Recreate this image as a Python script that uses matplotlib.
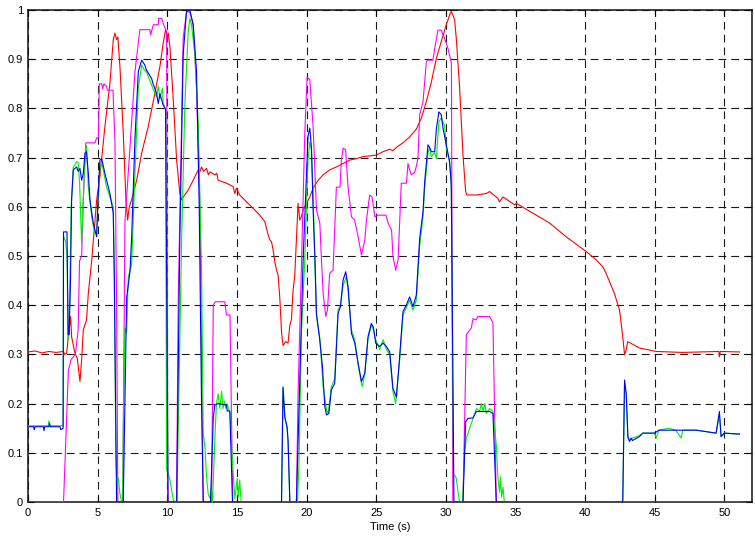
import matplotlib
matplotlib.use("Agg")
import matplotlib.pyplot as plt

# ---- data (time in s, normalized value) ----
red_points = [(0,0.305),(0.5,0.307),(1.0,0.303),(1.5,0.306),(2.0,0.304),(2.55,0.306),(2.62,0.3),(2.77,0.302),
    (2.9,0.336),(3.06,0.377),(3.13,0.336),(3.37,0.302),(3.54,0.292),(3.73,0.245),(3.85,0.289),(3.97,0.35),
    (4.2,0.37),(4.33,0.424),(4.57,0.49),(4.93,0.614),(5.16,0.661),(5.52,0.763),(5.88,0.851),(6.12,0.939),
    (6.24,0.953),(6.36,0.94),(6.45,0.945),(6.6,0.885),(6.84,0.749),(7.03,0.614),(7.15,0.573),(7.27,0.6),
    (7.44,0.614),(7.8,0.654),(8.16,0.709),(8.63,0.763),(9.11,0.831),(9.47,0.885),(9.7,0.932),(9.88,0.96),
    (10.0,0.946),(10.07,0.953),(10.19,0.925),(10.43,0.817),(10.67,0.695),(10.9,0.627),(11.03,0.614),
    (11.15,0.62),(11.5,0.634),(11.86,0.654),(12.22,0.675),(12.3,0.668),(12.46,0.681),(12.6,0.672),
    (12.82,0.678),(12.95,0.665),(13.06,0.671),(13.41,0.665),(13.55,0.668),(13.65,0.654),(14.25,0.648),
    (14.73,0.641),(14.85,0.627),(14.97,0.638),(15.2,0.624),(15.69,0.61),(16.16,0.597),(16.64,0.583),
    (17.0,0.57),(17.24,0.543),(17.36,0.533),(17.48,0.529),(17.6,0.512),(17.72,0.488),(17.84,0.472),
    (17.96,0.46),(18.08,0.414),(18.2,0.346),(18.31,0.318),(18.5,0.326),(18.67,0.323),(18.8,0.36),
    (18.91,0.37),(19.03,0.43),(19.15,0.46),(19.27,0.533),(19.39,0.607),(19.51,0.573),(19.63,0.58),
    (19.75,0.593),(19.99,0.607),(20.23,0.62),(20.47,0.638),(20.83,0.654),(21.19,0.665),(21.66,0.675),
    (22.14,0.681),(22.62,0.688),(23.1,0.695),(23.58,0.698),(24.05,0.702),(25.0,0.705),(25.49,0.712),
    (25.97,0.717),(26.2,0.714),(26.5,0.722),(26.92,0.73),(27.4,0.742),(27.88,0.758),(28.24,0.78),
    (28.6,0.814),(28.96,0.854),(29.32,0.902),(29.67,0.936),(30.03,0.97),(30.27,0.99),(30.39,0.997),
    (30.5,0.99),(30.63,0.98),(30.75,0.942),(30.99,0.841),(31.23,0.705),(31.42,0.631),(31.51,0.624),
    (32.19,0.624),(32.9,0.627),(33.14,0.631),(33.4,0.625),(33.74,0.617),(33.85,0.61),(34.1,0.62),
    (34.94,0.604),(35.06,0.607),(36.25,0.587),(37.45,0.567),(38.64,0.539),(40.08,0.509),(40.8,0.492),
    (41.27,0.478),(41.5,0.465),(42.1,0.424),(42.47,0.39),(42.7,0.336),(42.83,0.299),(42.95,0.31),
    (43.06,0.326),(43.9,0.313),(45.1,0.306),(47.0,0.304),(49.6,0.306),(49.64,0.295),(49.7,0.306),
    (51.08,0.305)]

magenta_points = [(0,0),(2.55,0),(2.9,0.268),(3.1,0.29),(3.4,0.3),(3.6,0.35),(3.7,0.49),(3.85,0.5),
    (3.97,0.614),(4.15,0.73),(4.8,0.73),(4.93,0.74),(5.05,0.74),(5.12,0.85),(5.3,0.85),(5.35,0.84),
    (5.45,0.85),(5.64,0.845),(5.7,0.837),(6.1,0.837),(6.24,0.736),(6.36,0.4),(6.45,0),(6.8,0),
    (6.96,0.57),(7.2,0.67),(7.68,0.875),(8.03,0.96),(8.75,0.96),(8.8,0.95),(8.9,0.96),(9.0,0.97),
    (9.35,0.97),(9.38,0.983),(9.6,0.983),(9.7,0.973),(9.95,0.956),(10.05,0),(10.67,0),(10.78,0.4),
    (11.03,0.773),(11.14,0.943),(11.38,0.996),(11.62,0.996),(11.86,0.97),(12.1,0.84),(12.34,0.604),
    (12.58,0),(13.18,0),(13.3,0.4),(13.46,0.407),(14.13,0.407),(14.25,0.38),(14.5,0.38),(14.7,0),
    (19.27,0),(19.39,0.221),(19.63,0.478),(19.87,0.749),(20.04,0.864),(20.23,0.858),(20.47,0.763),
    (20.71,0.593),(20.95,0.567),(21.07,0.492),(21.19,0.424),(21.38,0.377),(21.5,0.39),(21.66,0.465),
    (21.9,0.471),(22.14,0.64),(22.4,0.64),(22.5,0.695),(22.62,0.719),(22.8,0.716),(22.98,0.64),
    (23.22,0.58),(23.45,0.573),(23.7,0.539),(23.94,0.502),(24.18,0.532),(24.3,0.573),(24.53,0.624),
    (24.7,0.62),(24.9,0.58),(25.13,0.583),(25.7,0.583),(25.85,0.567),(26.1,0.553),(26.2,0.5),
    (26.4,0.471),(26.57,0.492),(26.8,0.648),(27.17,0.648),(27.28,0.688),(27.4,0.675),(27.52,0.665),
    (27.76,0.67),(27.88,0.682),(28.0,0.7),(28.12,0.787),(28.36,0.814),(28.6,0.895),(28.72,0.898),
    (29.07,0.898),(29.2,0.922),(29.43,0.959),(29.67,0.959),(29.91,0.942),(30.15,0.922),(30.4,0.892),
    (30.5,0),(31.23,0),(31.47,0.34),(31.83,0.354),(31.95,0.373),(32.18,0.37),(32.3,0.377),
    (33.14,0.377),(33.38,0.364),(33.62,0),(51.08,0)]

green_points = [(0,0.155),(1.45,0.155),(1.5,0.165),(1.55,0.155),(2.52,0.155),(2.55,0.54),(2.7,0.53),
    (2.8,0.5),(2.88,0.33),(2.95,0.35),(3.1,0.6),(3.25,0.68),(3.49,0.692),(3.6,0.69),(3.7,0.65),
    (3.85,0.526),(3.97,0.62),(4.09,0.7),(4.2,0.725),(4.33,0.64),(4.57,0.58),(4.8,0.546),(4.93,0.55),
    (5.16,0.68),(5.3,0.69),(5.64,0.64),(6.12,0.6),(6.2,0.45),(6.3,0.1),(6.36,0.051),(6.48,0.05),
    (6.6,0.017),(6.72,0.0),(6.8,0.0),(6.84,0.153),(6.96,0.354),(7.08,0.343),(7.2,0.458),(7.44,0.482),
    (7.68,0.671),(7.92,0.841),(8.16,0.888),(8.35,0.878),(8.5,0.875),(8.87,0.848),(9.0,0.838),
    (9.23,0.824),(9.35,0.845),(9.47,0.82),(9.66,0.841),(9.7,0.81),(9.88,0.8),(9.95,0.065),
    (10.07,0.058),(10.19,0.045),(10.43,0.004),(10.6,0),(10.7,0.0),(10.78,0.14),(11.03,0.536),
    (11.26,0.807),(11.5,0.956),(11.62,0.983),(11.74,0.97),(11.98,0.909),(12.22,0.773),(12.46,0.468),
    (12.58,0.14),(12.7,0.112),(12.82,0.051),(12.93,0.017),(13.05,0.008),(13.17,0.025),(13.25,0.0),
    (13.41,0.126),(13.53,0.2),(13.65,0.22),(13.77,0.19),(13.9,0.225),(14.0,0.19),(14.1,0.205),
    (14.2,0.19),(14.3,0.2),(14.5,0.18),(14.73,0.058),(14.85,0.007),(15.02,0.048),(15.1,0.01),
    (15.2,0.045),(15.3,0.0),(18.2,0),(18.31,0.23),(18.44,0.17),(18.6,0.15),(18.67,0.12),(18.8,0),
    (19.35,0),(19.46,0.085),(19.63,0.343),(19.87,0.492),(20.1,0.695),(20.23,0.732),(20.35,0.715),
    (20.47,0.627),(20.59,0.49),(20.71,0.377),(20.95,0.333),(21.19,0.234),(21.43,0.187),(21.55,0.18),
    (21.78,0.235),(22.02,0.25),(22.26,0.39),(22.43,0.4),(22.62,0.44),(22.86,0.458),(22.98,0.43),
    (23.22,0.35),(23.46,0.33),(23.7,0.28),(23.94,0.24),(24.0,0.235),(24.18,0.26),(24.41,0.33),
    (24.65,0.36),(24.8,0.35),(24.96,0.33),(25.25,0.31),(25.49,0.33),(25.73,0.31),(25.97,0.3),
    (26.2,0.225),(26.4,0.2),(26.69,0.29),(26.92,0.38),(27.16,0.395),(27.4,0.41),(27.64,0.39),
    (27.88,0.41),(28.12,0.52),(28.36,0.58),(28.48,0.64),(28.72,0.71),(28.84,0.72),(28.96,0.702),
    (29.2,0.71),(29.32,0.698),(29.5,0.773),(29.67,0.78),(29.91,0.766),(30.03,0.72),(30.27,0.69),
    (30.39,0.64),(30.55,0.055),(30.63,0.055),(30.75,0.048),(30.87,0.021),(30.99,0),(31.2,0),
    (31.35,0.102),(31.47,0.129),(31.71,0.15),(31.95,0.17),(32.2,0.19),(32.43,0.185),(32.55,0.2),
    (32.67,0.185),(32.8,0.2),(32.9,0.18),(33.14,0.19),(33.38,0.185),(33.62,0.116),(33.74,0.048),
    (33.86,0.02),(33.93,0.051),(34.0,0.01),(34.1,0.03),(34.2,0),(42.7,0),(42.83,0.24),(42.95,0.22),
    (43.07,0.13),(43.19,0.125),(43.4,0.13),(43.9,0.135),(44.14,0.14),(44.98,0.14),(45.1,0.13),
    (45.3,0.146),(46.0,0.15),(46.5,0.146),(46.9,0.13),(47.0,0.146),(48.0,0.146),(49.4,0.14),
    (49.64,0.175),(49.76,0.133),(50.0,0.14),(51.08,0.138)]

blue_points = [(0,0.153),(0.4,0.153),(0.45,0.147),(0.5,0.153),(1.1,0.153),(1.15,0.145),(1.2,0.153),
    (1.5,0.153),(1.55,0.16),(1.6,0.153),(2.3,0.153),(2.35,0.147),(2.52,0.15),(2.55,0.549),(2.8,0.549),
    (2.88,0.34),(2.95,0.34),(3.05,0.45),(3.13,0.614),(3.25,0.675),(3.49,0.681),(3.6,0.672),
    (3.73,0.678),(3.85,0.654),(3.97,0.668),(4.09,0.709),(4.2,0.712),(4.33,0.668),(4.45,0.614),
    (4.69,0.566),(4.93,0.539),(5.0,0.6),(5.16,0.695),(5.29,0.698),(5.52,0.668),(5.88,0.627),
    (6.12,0.587),(6.2,0.45),(6.36,0),(6.84,0),(7.08,0.415),(7.32,0.468),(7.44,0.537),(7.68,0.74),
    (7.92,0.875),(8.16,0.898),(8.39,0.888),(8.5,0.878),(8.87,0.861),(9.0,0.848),(9.23,0.831),
    (9.35,0.81),(9.47,0.83),(9.7,0.807),(9.88,0.797),(10.05,0),(10.67,0),(10.9,0.537),(11.14,0.909),
    (11.38,0.997),(11.62,1.0),(11.86,0.97),(12.1,0.875),(12.29,0.604),(12.46,0.197),(12.58,0),
    (13.1,0),(13.3,0.17),(13.41,0.197),(13.65,0.2),(14.25,0.197),(14.3,0.185),(14.49,0.185),
    (14.68,0),(18.2,0),(18.31,0.234),(18.44,0.173),(18.6,0.153),(18.67,0.126),(18.8,0),(19.27,0),
    (19.51,0.248),(19.75,0.49),(19.94,0.627),(20.1,0.743),(20.23,0.76),(20.35,0.72),(20.47,0.593),
    (20.59,0.505),(20.71,0.383),(20.95,0.329),(21.14,0.275),(21.31,0.194),(21.43,0.177),(21.6,0.18),
    (21.78,0.228),(22.02,0.241),(22.26,0.383),(22.43,0.397),(22.62,0.451),(22.81,0.468),
    (22.98,0.438),(23.22,0.343),(23.46,0.323),(23.7,0.282),(23.94,0.245),(24.18,0.262),
    (24.41,0.336),(24.65,0.363),(24.8,0.355),(24.96,0.323),(25.25,0.316),(25.49,0.323),
    (25.73,0.316),(25.97,0.305),(26.2,0.231),(26.45,0.213),(26.69,0.299),(26.92,0.387),(27.16,0.4),
    (27.4,0.417),(27.64,0.397),(27.88,0.421),(28.12,0.536),(28.36,0.59),(28.48,0.651),(28.72,0.726),
    (28.84,0.72),(28.96,0.712),(29.2,0.712),(29.32,0.759),(29.5,0.793),(29.67,0.787),(29.8,0.759),
    (30.03,0.726),(30.27,0.692),(30.39,0.644),(30.58,0),(31.23,0),(31.42,0.163),(31.59,0.17),
    (31.95,0.171),(32.19,0.184),(33.14,0.184),(33.38,0.18),(33.62,0),(42.7,0),(42.83,0.248),
    (42.95,0.221),(43.07,0.133),(43.19,0.123),(43.3,0.13),(43.4,0.125),(43.9,0.133),(44.14,0.14),
    (44.98,0.14),(45.3,0.146),(47.97,0.146),(49.4,0.14),(49.64,0.184),(49.76,0.133),(50.0,0.14),
    (51.08,0.138)]

x_ticks = [0, 5, 10, 15, 20, 25, 30, 35, 40, 45, 50]
y_ticks = [0, 0.1, 0.2, 0.3, 0.4, 0.5, 0.6, 0.7, 0.8, 0.9, 1]
y_tick_labels = ["0", "0.1", "0.2", "0.3", "0.4", "0.5", "0.6", "0.7", "0.8", "0.9", "1"]
x_label = "Time (s)"

plt.rcParams['font.family'] = ['Liberation Sans', 'DejaVu Sans']

fig = plt.figure(figsize=(7.55, 5.38), dpi=100)
ax = fig.add_axes([0.0371, 0.0669, 0.9593, 0.9145])

series = [(red_points, '#ff0000'), (magenta_points, '#ff00ff'),
          (green_points, '#00ee00'), (blue_points, '#0000ff')]
for pts, col in series:
    t, v = zip(*pts)
    ax.plot(t, v, color=col, linewidth=0.8, zorder=3)

ax.set_xlim(0, 52)
ax.set_ylim(0, 1)
ax.set_xticks(x_ticks)
ax.set_xticklabels([str(x) for x in x_ticks])
ax.set_yticks(y_ticks)
ax.set_yticklabels(y_tick_labels)
ax.tick_params(direction='in', length=4, width=0.8, labelsize=8,
               top=True, right=True)
ax.tick_params(axis='x', pad=4.5)
ax.tick_params(axis='y', pad=3.5)
ax.grid(True, color='#1a1a1a', linewidth=0.8, linestyle=(0, (7, 4.5)), zorder=1)
for s in ax.spines.values():
    s.set_linewidth(1.1)
    s.set_color('#111111')
ax.set_xlabel(x_label, fontsize=8, labelpad=2.5)

fig.savefig("out.png", dpi=100)
